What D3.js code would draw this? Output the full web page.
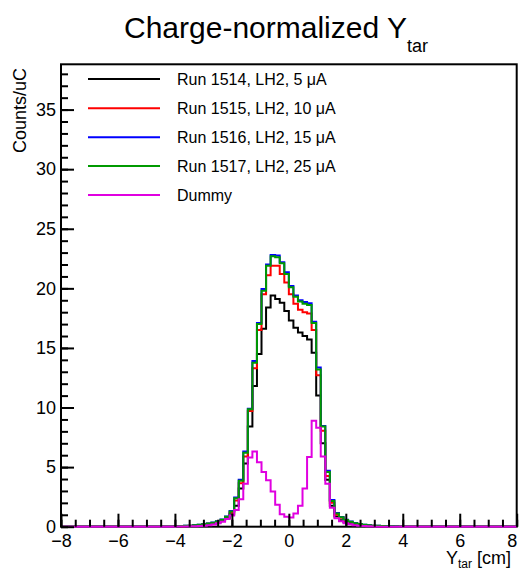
<!DOCTYPE html>
<html>
<head>
<meta charset="utf-8">
<script src="https://cdn.jsdelivr.net/npm/d3@7"></script>
<style>
  html, body { margin: 0; padding: 0; background: #fff; }
  svg { display: block; }
  text { font-family: "Liberation Sans", Arial, Helvetica, sans-serif; fill: #000; }
</style>
</head>
<body>
<svg id="chart" width="520" height="570"></svg>
<script>
// ---- data ----
const xMin = -8, xMax = 8, nBins = 100;         // histogram binning (bin width 0.16)
const firstBin = 25;                              // values below start at bin 25 (x = -4.0)
const xTicks = [-8, -6, -4, -2, 0, 2, 4, 6, 8];
const yTicks = [0, 5, 10, 15, 20, 25, 30, 35];
const yMax = 38.8;

const seriesNames = ["Run 1514, LH2, 5 \u03bcA", "Run 1515, LH2, 10 \u03bcA", "Run 1516, LH2, 15 \u03bcA", "Run 1517, LH2, 25 \u03bcA", "Dummy"];
const seriesColors = ["#000000", "#ff0000", "#0000ff", "#009a00", "#e000e0"];

// bins 25..74 (x from -4.0 to 4.0), others are empty
const run1514 = [0.02,0.03,0.04,0.06,0.08,0.11,0.15,0.2,0.27,0.36,
                 0.48,0.7,1.05,1.75,3.2,5.3,8.4,11.8,14.5,16.6,
                 18.4,19.4,19.1,18.8,18.1,17.3,16.7,16.3,16.0,15.7,
                 14.6,11.0,7.0,3.95,1.75,0.85,0.55,0.38,0.26,0.18,
                 0.12,0.08,0.05,0.03,0.02,0,0,0,0,0];
const run1515 = [0.03,0.04,0.06,0.08,0.11,0.15,0.19,0.25,0.32,0.42,
                 0.55,0.8,1.2,2.2,3.65,5.9,9.7,13.3,16.5,19.5,
                 21.1,21.9,21.9,21.2,20.5,19.5,18.7,18.2,18.0,17.9,
                 16.5,12.7,8.05,4.25,2.0,1.0,0.75,0.52,0.38,0.28,
                 0.2,0.14,0.1,0.08,0.06,0.04,0.03,0.02,0.01,0];
const run1516 = [0.03,0.05,0.07,0.09,0.12,0.16,0.21,0.27,0.35,0.46,
                 0.6,0.86,1.32,2.45,3.95,6.3,9.9,13.9,17.1,19.95,
                 22.0,22.8,22.75,22.2,21.35,20.2,19.4,19.0,18.85,18.75,
                 17.2,13.35,8.45,4.7,2.25,1.15,0.82,0.58,0.43,0.31,
                 0.23,0.17,0.12,0.09,0.07,0.05,0.04,0.03,0.02,0];
const run1517 = [0.03,0.05,0.07,0.09,0.12,0.16,0.2,0.26,0.34,0.44,
                 0.58,0.84,1.28,2.38,3.85,6.2,9.85,13.75,17.0,19.8,
                 21.9,22.7,22.6,22.1,21.2,20.1,19.3,18.9,18.7,18.6,
                 17.1,13.2,8.4,4.6,2.15,1.1,0.8,0.56,0.42,0.3,
                 0.22,0.16,0.12,0.09,0.07,0.05,0.04,0.03,0.02,0];
const dummy   = [0.01,0.01,0.02,0.03,0.04,0.05,0.08,0.12,0.18,0.28,
                 0.42,0.65,0.95,1.4,2.3,3.6,5.8,6.3,5.4,4.6,
                 3.9,2.95,1.85,1.05,0.84,0.78,1.1,1.75,3.2,5.85,
                 8.9,8.3,5.9,3.6,1.58,0.7,0.45,0.3,0.2,0.13,
                 0.08,0.05,0.03,0.02,0,0,0,0,0,0];
const seriesValues = [run1514, run1515, run1516, run1517, dummy];

// ---- layout ----
const svg = d3.select("#chart");
const L = 61, R = 516.7, T = 64.3, B = 526.7;
const x = d3.scaleLinear().domain([xMin, xMax]).range([L, R]);
const y = d3.scaleLinear().domain([0, yMax]).range([B, T]);
const binW = (xMax - xMin) / nBins;

function fullBins(vals) {
  return d3.range(nBins).map(k => {
    const i = k - firstBin;
    return { x0: xMin + k * binW, v: (i >= 0 && i < vals.length) ? vals[i] : 0 };
  });
}

// frame
svg.append("rect").attr("x", L).attr("y", T).attr("width", R - L).attr("height", B - T)
  .attr("fill", "none").attr("stroke", "#000").attr("stroke-width", 2);

// histograms
const line = d3.line().curve(d3.curveStepAfter);
seriesValues.forEach((vals, s) => {
  const bins = fullBins(vals);
  const pts = bins.map(b => [x(b.x0), y(b.v)]);
  pts.push([x(xMax), y(bins[bins.length - 1].v)]);
  svg.append("path").attr("d", line(pts)).attr("fill", "none")
    .attr("stroke", seriesColors[s]).attr("stroke-width", 2)
    .attr("stroke-linejoin", "miter");
});

// axes
const fmt = d3.format("d");
const yMinor = d3.range(0, 39, 1);
const xMinor = d3.range(-8, 8.01, 0.5);

const gy = svg.append("g").attr("transform", `translate(${L},0)`);
gy.call(d3.axisLeft(y).tickValues(yMinor).tickSize(-7).tickFormat(""));
gy.call(g => g.select(".domain").remove());
const gy2 = svg.append("g").attr("transform", `translate(${L},0)`);
gy2.call(d3.axisLeft(y).tickValues(yTicks).tickSize(-13).tickPadding(5).tickFormat(fmt));
gy2.select(".domain").remove();

const gx = svg.append("g").attr("transform", `translate(0,${B})`);
gx.call(d3.axisBottom(x).tickValues(xMinor).tickSize(-7).tickFormat(""));
gx.select(".domain").remove();
const gx2 = svg.append("g").attr("transform", `translate(0,${B})`);
gx2.call(d3.axisBottom(x).tickValues(xTicks).tickSize(-13).tickPadding(8).tickFormat(fmt));
gx2.select(".domain").remove();
// keep the last x label inside the canvas
gx2.selectAll(".tick").filter(d => d === xMax).select("text").attr("x", -5);

svg.selectAll(".tick line").attr("stroke", "#000").attr("stroke-width", 2);
svg.selectAll(".tick text").attr("font-size", 18)
  .attr("font-family", "'Liberation Sans', Arial, Helvetica, sans-serif").attr("fill", "#000");

// title
const title = svg.append("text").attr("x", 124).attr("y", 38).attr("font-size", 30);
title.append("tspan").text("Charge-normalized Y");
title.append("tspan").attr("dy", 13.5).attr("font-size", 18).text("tar");

// axis titles
const xl = svg.append("text").attr("x", 511).attr("y", 564).attr("text-anchor", "end").attr("font-size", 18);
xl.append("tspan").text("Y");
xl.append("tspan").attr("dy", 4).attr("font-size", 12).text("tar");
xl.append("tspan").attr("dy", -4).text(" [cm]");

svg.append("text").attr("transform", "translate(26,68) rotate(-90)")
  .attr("text-anchor", "end").attr("font-size", 18).text("Counts/uC");

// legend
const legY = [79, 108.3, 137.3, 166, 195];
seriesNames.forEach((name, i) => {
  svg.append("line").attr("x1", 88).attr("x2", 160).attr("y1", legY[i]).attr("y2", legY[i])
    .attr("stroke", seriesColors[i]).attr("stroke-width", 2);
  svg.append("text").attr("x", 177).attr("y", legY[i]).attr("dy", "0.36em")
    .attr("font-size", 16).text(name);
});
</script>
</body>
</html>
